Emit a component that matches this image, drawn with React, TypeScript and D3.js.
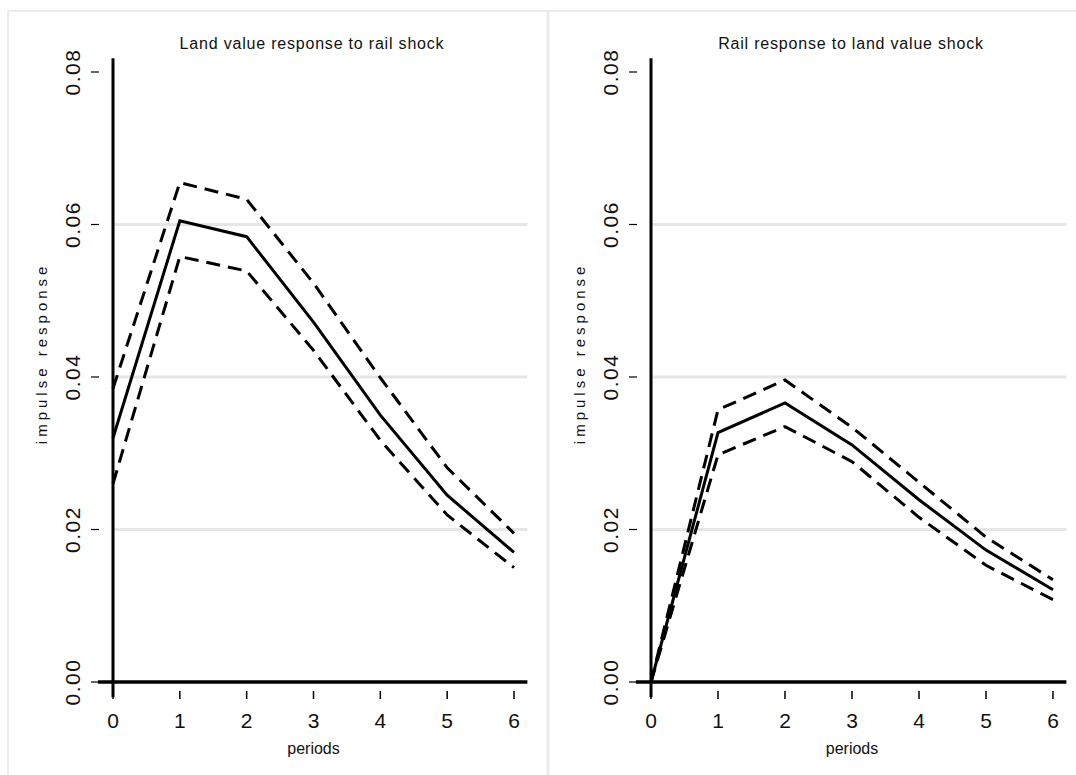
import React from 'react';
import * as d3 from 'd3';

// periods on the x axis
const periods = [0, 1, 2, 3, 4, 5, 6];
const yTicks = [0, 0.02, 0.04, 0.06, 0.08];
const gridTicks = [0.02, 0.04, 0.06];

// left panel: land value response to rail shock
const landIrf = [0.032, 0.0605, 0.0584, 0.0472, 0.035, 0.0245, 0.017];
const landUpper = [0.0385, 0.0655, 0.0633, 0.0523, 0.0399, 0.0281, 0.0195];
const landLower = [0.026, 0.0558, 0.0539, 0.0435, 0.0317, 0.0219, 0.015];

// right panel: rail response to land value shock
const railIrf = [0, 0.0327, 0.0366, 0.0311, 0.0239, 0.0173, 0.0121];
const railUpper = [0, 0.0357, 0.0396, 0.0334, 0.0262, 0.019, 0.0134];
const railLower = [0, 0.0298, 0.0335, 0.0289, 0.0216, 0.0153, 0.0108];

const panels = [
  { title: 'Land value response to rail shock', irf: landIrf, upper: landUpper, lower: landLower, x0: 113, x6: 514, titleX: 312 },
  { title: 'Rail response to land value shock', irf: railIrf, upper: railUpper, lower: railLower, x0: 651, x6: 1053, titleX: 851 },
];

const font = '"Liberation Sans", Arial, sans-serif';

const y = d3.scaleLinear().domain([0, 0.08]).range([682, 72]);

const Panel = ({ p }: { p: typeof panels[number] }) => {
  const x = d3.scaleLinear().domain([0, 6]).range([p.x0, p.x6]);
  const line = d3.line<number>()
    .x((_, i) => x(periods[i]))
    .y(d => y(d));
  const xEnd = x(6.2);
  return (
    <g fontFamily={font}>
      {gridTicks.map(t => (
        <line key={t} x1={p.x0} x2={xEnd} y1={y(t)} y2={y(t)} stroke="#e6e6e6" strokeWidth={3} />
      ))}
      <text x={p.titleX} y={49} textAnchor="middle" fontSize={16} letterSpacing={0.8} fill="#111">{p.title}</text>
      {/* y axis */}
      <line x1={p.x0} x2={p.x0} y1={y(0.0818)} y2={y(-0.002)} stroke="#000" strokeWidth={3} />
      {yTicks.map(t => (
        <g key={t}>
          <line x1={p.x0 - 22} x2={p.x0 - 14} y1={y(t)} y2={y(t)} stroke="#000" strokeWidth={1.2} />
          <text transform={`translate(${p.x0 - 33},${y(t)}) rotate(-90)`} textAnchor="middle" fontSize={21} letterSpacing={1.5} fill="#111">{t.toFixed(2)}</text>
        </g>
      ))}
      <text transform={`translate(${p.x0 - 66},${y(0.0431)}) rotate(-90)`} textAnchor="middle" fontSize={15} letterSpacing={4} fill="#111">impulse response</text>
      {/* x axis */}
      <line x1={x(-0.225)} x2={xEnd} y1={y(0)} y2={y(0)} stroke="#000" strokeWidth={3.5} />
      {periods.map(t => (
        <g key={t}>
          <line x1={x(t)} x2={x(t)} y1={691} y2={699} stroke="#000" strokeWidth={1.5} />
          <text x={x(t)} y={728} textAnchor="middle" fontSize={21} fill="#111">{t}</text>
        </g>
      ))}
      <text x={x(3)} y={754} textAnchor="middle" fontSize={16} fill="#111">periods</text>
      {/* bands and response */}
      <path d={line(p.upper) || ''} fill="none" stroke="#000" strokeWidth={3} strokeDasharray="14 8" />
      <path d={line(p.lower) || ''} fill="none" stroke="#000" strokeWidth={3} strokeDasharray="14 8" />
      <path d={line(p.irf) || ''} fill="none" stroke="#000" strokeWidth={3} />
    </g>
  );
};

export default function App() {
  return (
    <svg width={1076} height={775} style={{ position: 'absolute', left: 0, top: 0, background: '#fff' }}>
      <line x1={8} x2={1076} y1={11} y2={11} stroke="#ebebeb" strokeWidth={2} />
      <line x1={8} x2={8} y1={11} y2={775} stroke="#ebebeb" strokeWidth={2} />
      <line x1={548} x2={548} y1={11} y2={775} stroke="#ebebeb" strokeWidth={3} />
      {panels.map(p => <Panel key={p.title} p={p} />)}
    </svg>
  );
}
